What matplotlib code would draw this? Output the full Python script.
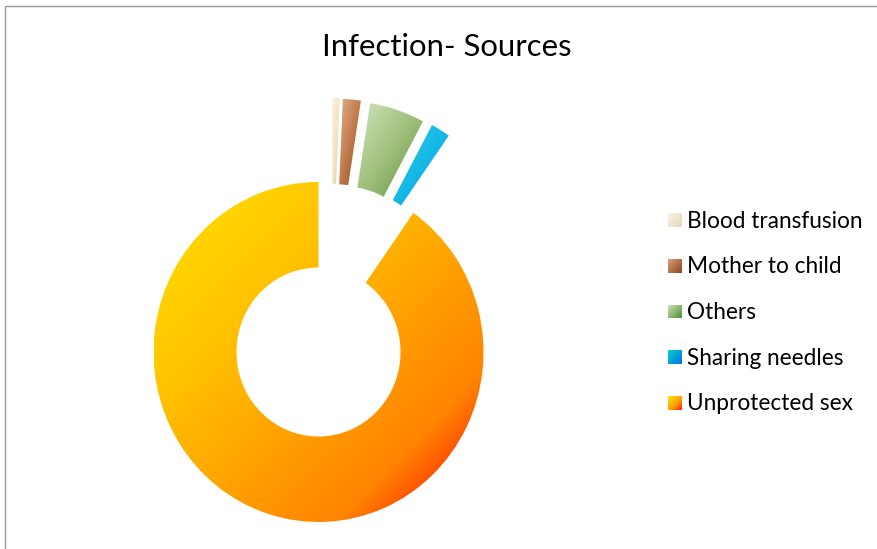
import numpy as np
import matplotlib
matplotlib.use("Agg")
import matplotlib.pyplot as plt
from matplotlib.patches import Wedge, Rectangle
from matplotlib.colors import LinearSegmentedColormap
from matplotlib.transforms import Affine2D

##### data #####
title = 'Infection- Sources'
labels = ['Blood transfusion', 'Mother to child', 'Others', 'Sharing needles', 'Unprotected sex']
shares = [0.7, 1.75, 5.4, 1.9, 90.25]          # percent
exploded = [True, True, True, True, False]

# gradient stops (top-left -> bottom-right) for each slice
grad_stops = [
    [(0.0, '#FDF1DC'), (0.5, '#F1E4C9'), (1.0, '#D4C9AE')],
    [(0.0, '#E0AE88'), (0.5, '#C27C4C'), (1.0, '#8E441A')],
    [(0.0, '#D3E5BE'), (0.5, '#A0C07C'), (1.0, '#57923D')],
    [(0.0, '#28D2E4'), (0.5, '#15B8E6'), (1.0, '#0898DF')],
    [(0.0, '#FFE200'), (0.32, '#FFC300'), (0.78, '#FF8400'), (0.86, '#FF5200'), (1.0, '#FF4000')],
]
legend_stops = [
    [(0.0, '#FDF3E0'), (1.0, '#E2D6BC')],
    [(0.0, '#D9A07A'), (1.0, '#8E441A')],
    [(0.0, '#D3E5BE'), (1.0, '#4E8C33')],
    [(0.0, '#00D6C8'), (1.0, '#0A6EE6')],
    [(0.0, '#FFE800'), (0.6, '#FF9A00'), (1.0, '#FF1A00')],
]


##### helpers #####
def gradient_fill(ax, patch, stops, bbox=None, transform=None):
    if bbox is None:
        bbox = patch.get_path().get_extents()
    cmap = LinearSegmentedColormap.from_list('g', stops)
    n = 200
    u = np.linspace(0, 1, n)
    U, V = np.meshgrid(u, u)
    im = ax.imshow((U + V) / 2, cmap=cmap, vmin=0, vmax=1, origin='upper',
                   extent=[bbox.x0, bbox.x1, bbox.y0, bbox.y1],
                   interpolation='bilinear', zorder=2)
    if transform is not None:
        im.set_transform(transform)
    im.set_clip_path(patch)


##### figure (pixel coordinates, y up) #####
W, H = 877, 549
fig = plt.figure(figsize=(W / 100, H / 100), dpi=100)
ax = fig.add_axes([0, 0, 1, 1])
ax.set_xlim(0, W)
ax.set_ylim(0, H)
ax.set_axis_off()

# chart area frame
ax.add_patch(Rectangle((4.5, -10), W + 20, H - 5.5 + 10, fill=False,
                       edgecolor='#9a9a9a', linewidth=1.0, zorder=1))

ax.text(446.5, H - 47, title, ha='center', va='center', fontsize=22.4,
        family='Lato', color='#000000')

# doughnut (drawn in local units, slightly squeezed horizontally like the original)
cx, cy = 318.5, H - 352
R_out, R_in = 170, 84.5
sx = 165 / 170
explode_len = 85
ring_tr = Affine2D().scale(sx, 1).translate(cx, cy) + ax.transData

angles = np.cumsum([0] + shares) / sum(shares) * 360   # clockwise from 12 o'clock
ex_idx = [i for i, e in enumerate(exploded) if e]
group_mid = (angles[ex_idx[0]] + angles[ex_idx[-1] + 1]) / 2

for i in range(len(shares)):
    a0, a1 = angles[i], angles[i + 1]
    dx, dy = 0.0, 0.0
    if exploded[i]:
        direction = np.radians(((a0 + a1) / 2 + group_mid) / 2)
        # offset given in screen pixels, so undo the squeeze
        dx, dy = explode_len * np.sin(direction) / sx, explode_len * np.cos(direction)
    w = Wedge((dx, dy), R_out, 90 - a1, 90 - a0, width=R_out - R_in,
              facecolor='none', edgecolor='none', transform=ring_tr)
    ax.add_patch(w)
    gradient_fill(ax, w, grad_stops[i], transform=ring_tr)

# legend
leg_x, leg_y0, leg_step, box = 668, H - 220, 45.75, 14
for i, lab in enumerate(labels):
    y = leg_y0 - i * leg_step
    sq = Rectangle((leg_x, y - box / 2), box, box, facecolor='none', edgecolor='none')
    ax.add_patch(sq)
    gradient_fill(ax, sq, legend_stops[i], bbox=sq.get_bbox())
    ax.text(leg_x + box + 5, y - 1, lab, ha='left', va='center', fontsize=16.3,
            family='Lato', color='#000000')

fig.savefig('out.png', dpi=100)
